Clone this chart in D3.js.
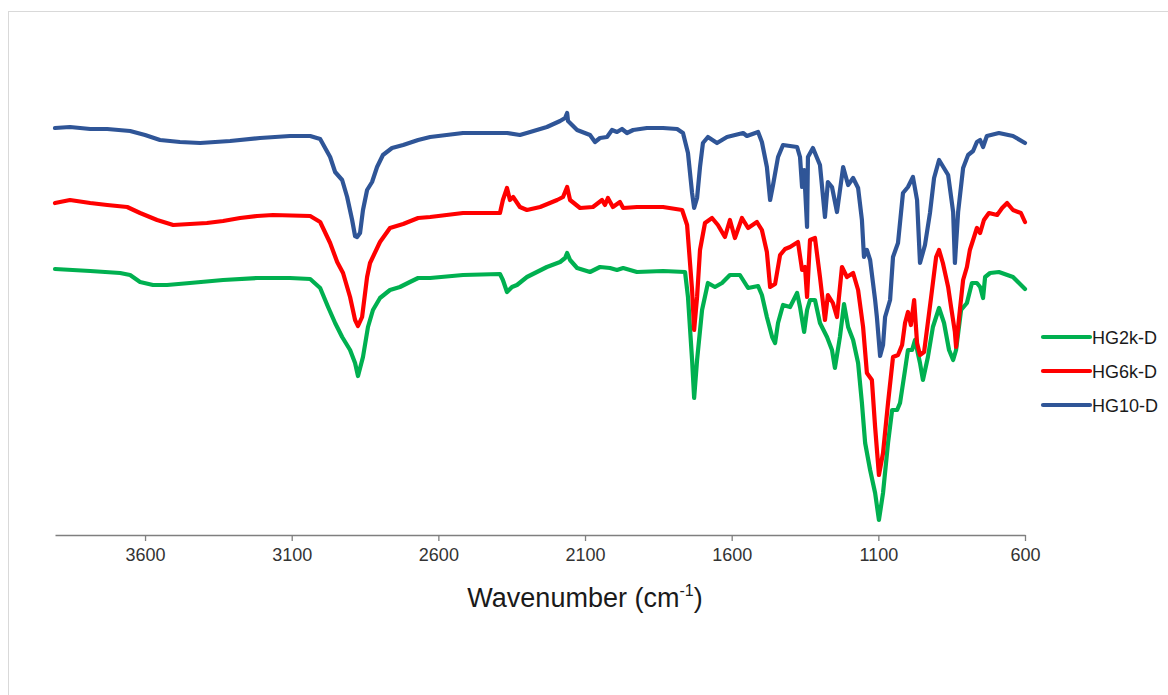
<!DOCTYPE html>
<html>
<head>
<meta charset="utf-8">
<script src="https://cdn.jsdelivr.net/npm/d3@7"></script>
<style>
  html, body { margin: 0; padding: 0; background: #ffffff; }
  svg { display: block; }
</style>
</head>
<body>
<svg id="chart" width="1168" height="695"></svg>
<script>
// FTIR spectra: [wavenumber (cm-1), transmittance (a.u., stacked)]
const hg2kD = [
  [3907,53.2],[3787,52.8],[3685,52.4],[3651,52.0],[3617,50.6],[3573,50.0],[3525,50.0],[3447,50.4],
  [3334,51.0],[3218,51.4],[3106,51.4],[3037,51.2],[3003,49.4],[2976,45.6],[2952,42.4],[2928,39.6],
  [2901,37.0],[2884,34.4],[2874,31.8],[2857,35.6],[2840,41.6],[2823,45.0],[2799,47.4],[2765,49.0],
  [2731,49.6],[2697,50.6],[2669,51.4],[2628,51.4],[2516,52.0],[2390,52.2],[2380,51.0],[2366,48.6],
  [2349,49.6],[2332,50.0],[2298,51.6],[2230,53.6],[2185,54.6],[2168,55.4],[2161,56.4],[2151,55.0],
  [2127,53.4],[2083,52.6],[2049,53.6],[2015,53.4],[1991,53.0],[1970,53.4],[1923,52.6],[1834,52.8],
  [1759,52.6],[1749,47.6],[1735,35.0],[1728,27.4],[1718,35.0],[1701,45.0],[1681,50.4],[1657,49.6],
  [1633,50.4],[1606,52.0],[1572,52.0],[1544,49.4],[1510,49.8],[1497,48.0],[1480,43.6],[1462,39.6],
  [1452,38.4],[1442,42.4],[1425,46.0],[1401,45.6],[1377,48.4],[1367,45.6],[1353,40.6],[1343,45.0],
  [1333,47.0],[1316,47.0],[1299,42.4],[1275,39.6],[1258,37.0],[1248,33.4],[1231,39.6],[1217,46.2],
  [1203,41.6],[1186,39.0],[1169,34.4],[1156,26.4],[1145,18.4],[1128,13.0],[1111,8.4],[1098,3.0],
  [1084,8.4],[1067,18.4],[1053,25.0],[1036,25.0],[1026,26.4],[1009,33.0],[999,37.0],[985,37.0],
  [975,39.0],[958,34.4],[948,31.0],[931,35.6],[914,41.6],[893,45.4],[876,42.4],[859,37.0],
  [845,35.0],[835,37.0],[818,45.0],[798,46.4],[781,50.4],[764,50.4],[753,49.6],[743,47.4],
  [736,51.6],[719,52.4],[689,52.6],[641,51.6],[600,49.2]
];

const hg6kD = [
  [3907,66.4],[3856,67.0],[3787,66.4],[3729,66.0],[3661,65.6],[3617,64.4],[3559,63.0],[3504,62.0],
  [3447,62.2],[3389,62.4],[3334,62.8],[3276,63.4],[3218,63.8],[3164,64.0],[3037,63.8],[3003,62.6],
  [2969,58.4],[2945,54.6],[2925,52.4],[2901,47.6],[2884,43.0],[2874,41.8],[2860,43.6],[2843,51.6],
  [2833,54.4],[2799,58.6],[2765,61.4],[2720,62.2],[2669,63.4],[2628,63.6],[2516,64.4],[2390,64.4],
  [2380,67.0],[2366,69.4],[2356,67.0],[2345,67.6],[2322,65.6],[2298,65.0],[2253,65.6],[2195,67.0],
  [2175,67.6],[2161,69.6],[2151,67.0],[2117,65.4],[2073,65.6],[2042,67.0],[2032,66.0],[2022,67.4],
  [2005,65.6],[1981,66.6],[1970,65.4],[1923,65.6],[1834,65.6],[1769,65.0],[1752,62.0],[1735,49.0],
  [1728,41.0],[1718,47.6],[1708,57.0],[1691,62.4],[1667,63.4],[1647,62.0],[1623,59.6],[1606,63.0],
  [1589,59.4],[1565,63.4],[1544,61.4],[1514,62.6],[1497,61.0],[1480,56.6],[1469,49.6],[1452,50.2],
  [1435,56.0],[1418,57.2],[1401,57.6],[1374,58.6],[1360,53.0],[1350,53.6],[1343,47.6],[1333,59.0],
  [1316,59.4],[1299,51.6],[1282,43.0],[1272,48.0],[1255,46.4],[1241,43.6],[1224,53.6],[1207,51.6],
  [1186,52.4],[1169,49.0],[1152,41.6],[1139,32.4],[1122,31.0],[1111,21.6],[1098,12.0],[1084,16.4],
  [1067,26.4],[1050,35.6],[1033,36.0],[1019,38.0],[1009,42.4],[999,44.6],[989,42.0],[978,47.0],
  [968,38.4],[958,36.0],[944,36.6],[920,47.6],[903,55.6],[893,57.0],[880,54.4],[862,49.6],
  [852,45.6],[839,40.6],[835,37.6],[822,45.0],[811,51.0],[798,53.6],[788,57.0],[777,59.0],
  [764,61.4],[753,60.4],[740,63.0],[723,64.4],[695,64.0],[678,65.4],[661,66.4],[641,65.0],
  [614,64.4],[600,62.6]
];

const hg10D = [
  [3907,81.4],[3856,81.6],[3787,81.2],[3729,81.2],[3651,80.8],[3600,80.0],[3549,79.0],[3481,78.6],
  [3412,78.4],[3310,78.8],[3208,79.4],[3106,79.8],[3037,79.8],[3003,79.2],[2969,75.6],[2952,72.6],
  [2928,71.0],[2911,67.6],[2894,63.0],[2884,59.8],[2877,59.6],[2867,60.4],[2857,65.0],[2843,69.0],
  [2826,70.6],[2809,73.6],[2789,76.0],[2758,77.4],[2720,78.0],[2669,79.0],[2628,79.6],[2516,80.4],
  [2366,80.4],[2322,80.0],[2287,80.6],[2230,81.6],[2185,82.8],[2168,83.4],[2161,84.4],[2158,82.8],
  [2127,81.0],[2083,80.0],[2066,78.6],[2049,79.4],[2025,79.6],[2008,81.0],[1991,80.6],[1974,81.2],
  [1957,80.4],[1936,81.0],[1889,81.4],[1834,81.4],[1786,81.2],[1766,80.4],[1749,76.4],[1735,68.4],
  [1728,65.4],[1718,67.4],[1708,73.6],[1698,78.4],[1681,79.6],[1650,78.4],[1616,79.6],[1561,80.4],
  [1548,79.8],[1510,80.6],[1497,78.6],[1480,73.6],[1469,67.0],[1459,70.0],[1442,75.6],[1425,78.0],
  [1377,77.6],[1367,75.6],[1360,69.6],[1353,73.0],[1343,61.6],[1340,75.6],[1323,77.4],[1299,74.0],
  [1282,63.6],[1272,70.6],[1258,69.6],[1241,64.6],[1220,73.6],[1203,70.0],[1186,71.4],[1169,69.4],
  [1156,63.0],[1149,55.6],[1139,57.0],[1128,55.0],[1111,47.0],[1105,43.6],[1094,35.8],[1084,38.0],
  [1077,43.6],[1060,47.0],[1050,55.6],[1033,58.4],[1016,68.4],[999,69.6],[982,71.6],[968,67.0],
  [958,54.4],[941,58.0],[924,64.4],[910,71.4],[893,75.0],[862,72.0],[845,64.6],[839,54.4],
  [828,64.6],[811,73.4],[794,76.0],[777,76.8],[764,78.6],[753,79.0],[743,77.6],[730,79.8],
  [689,80.4],[641,79.8],[600,78.4]
];

const seriesNames = ["HG2k-D", "HG6k-D", "HG10-D"];
const seriesColors = ["#00b050", "#ff0000", "#2f5597"];
const seriesData = [hg2kD, hg6kD, hg10D];
const xTicks = [3600, 3100, 2600, 2100, 1600, 1100, 600];
const xTitle = "Wavenumber (cm";

const svg = d3.select("#chart");

// outer chart frame
svg.append("rect")
  .attr("x", 8.5).attr("y", 11.5)
  .attr("width", 1170).attr("height", 700)
  .attr("fill", "#ffffff")
  .attr("stroke", "#d9d9d9").attr("stroke-width", 1);

const plot = { left: 55, right: 1025, top: 35, bottom: 535 };

const x = d3.scaleLinear().domain([3907, 600]).range([plot.left, plot.right]);
const y = d3.scaleLinear().domain([0, 100]).range([plot.bottom, plot.top]);

// spectra
const line = d3.line().x(d => x(d[0])).y(d => y(d[1]));
svg.append("g").selectAll("path")
  .data(seriesData)
  .join("path")
  .attr("d", d => line(d))
  .attr("fill", "none")
  .attr("stroke", (d, i) => seriesColors[i])
  .attr("stroke-width", 4.2)
  .attr("stroke-linejoin", "round")
  .attr("stroke-linecap", "round");

// x axis
const xAxis = d3.axisBottom(x).tickValues(xTicks)
  .tickSizeInner(6).tickSizeOuter(0).tickPadding(7).tickFormat(d3.format("d"));
const gx = svg.append("g").attr("transform", `translate(0,${plot.bottom})`).call(xAxis);
gx.select(".domain").attr("stroke", "#7f7f7f").attr("stroke-width", 1.3);
gx.selectAll(".tick line").attr("stroke", "#7f7f7f").attr("stroke-width", 1.3);
gx.selectAll(".tick text")
  .attr("font-family", "'Liberation Sans', Arial, sans-serif")
  .attr("font-size", 18)
  .attr("fill", "#333333");

// axis title with superscript
const title = svg.append("text")
  .attr("x", (plot.left + plot.right) / 2 + 45)
  .attr("y", 607)
  .attr("text-anchor", "middle")
  .attr("font-family", "'Liberation Sans', Arial, sans-serif")
  .attr("font-size", 27)
  .attr("fill", "#1a1a1a");
title.append("tspan").text(xTitle);
title.append("tspan").attr("font-size", 16).attr("dy", -11).text("-1");
title.append("tspan").attr("dy", 11).text(")");

// legend
const legend = svg.append("g").selectAll("g")
  .data(seriesNames)
  .join("g")
  .attr("transform", (d, i) => `translate(1043,${337 + i * 34})`);
legend.append("line")
  .attr("x1", 0).attr("x2", 47).attr("y1", 0).attr("y2", 0)
  .attr("stroke", (d, i) => seriesColors[i])
  .attr("stroke-width", 4.2)
  .attr("stroke-linecap", "round");
legend.append("text")
  .attr("x", 49).attr("y", 6.5)
  .attr("font-family", "'Liberation Sans', Arial, sans-serif")
  .attr("font-size", 18)
  .attr("fill", "#1a1a1a")
  .text(d => d);
</script>
</body>
</html>
